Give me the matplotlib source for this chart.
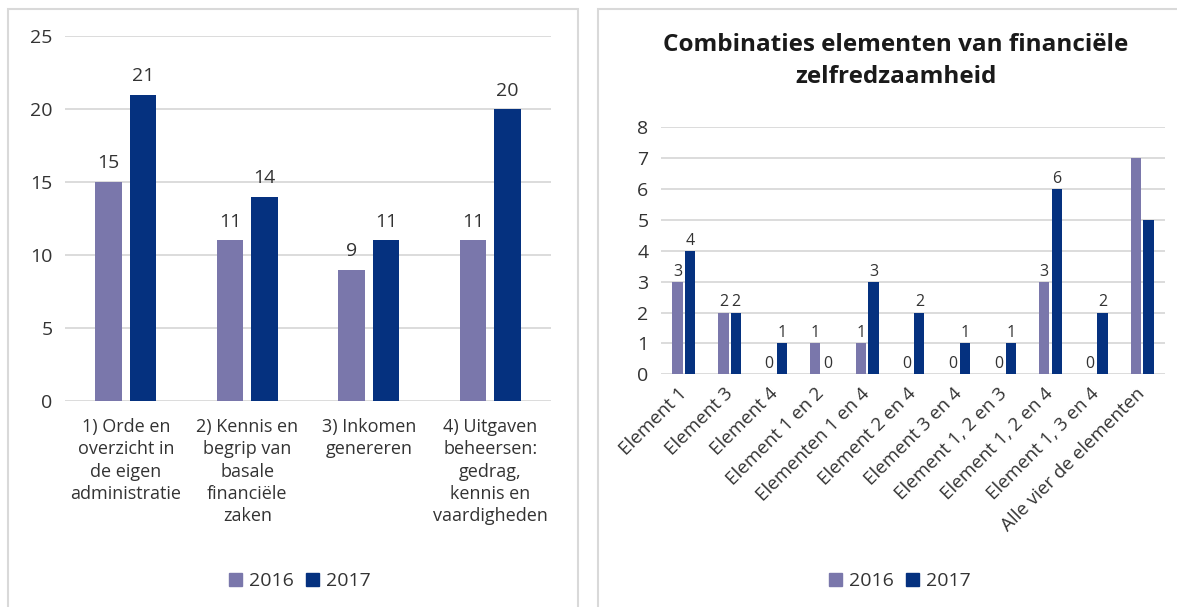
import matplotlib.pyplot as plt
from matplotlib.patches import Rectangle
from matplotlib.patches import Patch

plt.rcParams['font.family'] = ['Open Sans', 'DejaVu Sans']

# linker grafiek: vier elementen
elementen = ['1) Orde en\noverzicht in\nde eigen\nadministratie',
             '2) Kennis en\nbegrip van\nbasale\nfinanciële\nzaken',
             '3) Inkomen\ngenereren',
             '4) Uitgaven\nbeheersen:\ngedrag,\nkennis en\nvaardigheden']
elem_2016 = [15, 11, 9, 11]
elem_2017 = [21, 14, 11, 20]

# rechter grafiek: combinaties
combinaties = ['Element 1', 'Element 3', 'Element 4', 'Element 1 en 2',
               'Elementen 1 en 4', 'Element 2 en 4', 'Element 3 en 4',
               'Element 1, 2 en 3', 'Element 1, 2 en 4', 'Element 1, 3 en 4',
               'Alle vier de elementen']
comb_2016 = [3, 2, 0, 1, 1, 0, 0, 0, 3, 0, 7]
comb_2017 = [4, 2, 1, 0, 3, 2, 1, 1, 6, 2, 5]

jaren = ['2016', '2017']
kleur_2016 = '#7a77ab'
kleur_2017 = '#05317f'
tekst = '#333333'
grijs = '#d9d9d9'

W, H = 1177, 607
fig = plt.figure(figsize=(W / 100, H / 100), dpi=100)

# kaders om beide grafieken
for x0, x1 in [(8, 578), (598, 1200)]:
    fig.patches.append(Rectangle((x0 / W, -0.1), (x1 - x0) / W, 1 - 9 / H + 0.1,
                                 transform=fig.transFigure, fill=False,
                                 edgecolor=grijs, lw=1.5))


def opmaak(ax, ymax, n):
    ax.set_ylim(0, ymax)
    ax.set_xlim(-0.5, n - 0.5)
    for s in ax.spines.values():
        s.set_visible(False)
    ax.yaxis.grid(True, color=grijs, lw=1.3)
    ax.set_axisbelow(True)
    ax.tick_params(length=0, colors=tekst)


# --- links ---
ax1 = fig.add_axes([65 / W, 1 - 400.7 / H, (551 - 65) / W, (400.7 - 36.4) / H])
x = list(range(len(elementen)))
b1 = ax1.bar([i - 0.142 for i in x], elem_2016, 0.22, color=kleur_2016, zorder=2)
b2 = ax1.bar([i + 0.142 for i in x], elem_2017, 0.22, color=kleur_2017, zorder=2)
opmaak(ax1, 25, len(elementen))
ax1.set_yticks(range(0, 26, 5))
ax1.tick_params(axis='y', labelsize=14, pad=9)
ax1.set_xticks(x)
ax1.set_xticklabels(elementen, fontsize=13, linespacing=1.31)
ax1.tick_params(axis='x', pad=12.5)
for b in (b1, b2):
    ax1.bar_label(b, padding=7, fontsize=14, color=tekst)

# --- rechts ---
ax2 = fig.add_axes([661 / W, 1 - 374.3 / H, 504 / W, (374.3 - 127.3) / H])
x = list(range(len(combinaties)))
c1 = ax2.bar([i - 0.138 for i in x], comb_2016, 0.225, color=kleur_2016, zorder=2)
c2 = ax2.bar([i + 0.138 for i in x], comb_2017, 0.225, color=kleur_2017, zorder=2)
opmaak(ax2, 8, len(combinaties))
ax2.set_yticks(range(0, 9))
ax2.tick_params(axis='y', labelsize=14, pad=9)
ax2.set_xticks(x)
ax2.set_xticklabels(combinaties, fontsize=13.5, rotation=45, ha='right',
                    va='center', rotation_mode='anchor')
ax2.tick_params(axis='x', pad=12)
for b, v in ((c1, comb_2016), (c2, comb_2017)):
    lbl = [str(w) for w in v[:-1]] + ['']
    ax2.bar_label(b, labels=lbl, padding=1.5, fontsize=11.5, color=tekst)

fig.text(896 / W, 1 - 61 / H,
         'Combinaties elementen van financiële\nzelfredzaamheid',
         ha='center', va='center', fontsize=17.5, fontweight='bold',
         color='#1a1a1a', linespacing=1.39)

# legenda's
handles = [Patch(color=kleur_2016), Patch(color=kleur_2017)]
for cx in (300, 900):
    fig.legend(handles, jaren, loc='center', bbox_to_anchor=(cx / W, 1 - 581 / H),
               ncol=2, frameon=False, fontsize=14, handlelength=0.65,
               handleheight=0.65, handletextpad=0.35, columnspacing=0.65,
               labelcolor=tekst)

fig.savefig('out.png', dpi=100)
